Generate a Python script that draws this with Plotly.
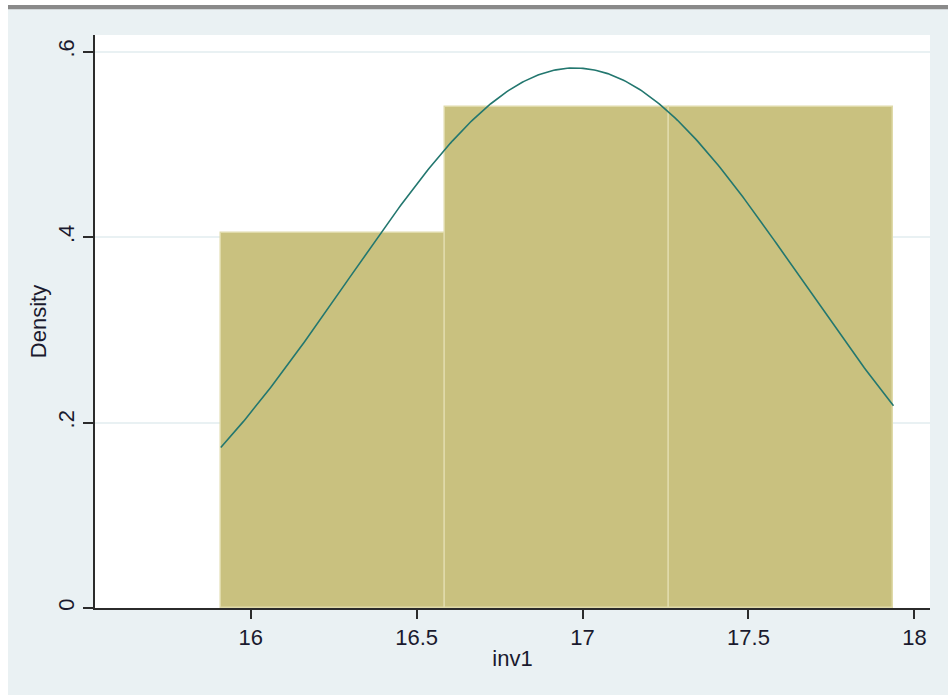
import numpy as np
import plotly.graph_objects as go

# Histogram of inv1 (density scale) with a fitted normal curve
bin_edges = [15.91, 16.586, 17.261, 17.937]
bin_density = [0.404, 0.540, 0.540]

# Normal density overlay parameters (mean and sd of inv1)
norm_mean = 16.977
norm_sd = 0.685

x_ticks = [16, 16.5, 17, 17.5, 18]
x_tick_labels = ["16", "16.5", "17", "17.5", "18"]
y_ticks = [0, 0.2, 0.4, 0.6]
y_tick_labels = ["0", ".2", ".4", ".6"]

edges = np.array(bin_edges)
centers = (edges[:-1] + edges[1:]) / 2
widths = np.diff(edges)

curve_x = np.linspace(bin_edges[0], bin_edges[-1], 300)
curve_y = np.exp(-0.5 * ((curve_x - norm_mean) / norm_sd) ** 2) / (norm_sd * np.sqrt(2 * np.pi))

W, H = 948, 695
L, R, T, B = 95, 18, 35, 87
pw, ph = W - L - R, H - T - B

def px_x(p):
    return (p - L) / pw

def px_y(p):
    return (H - B - p) / ph

fig = go.Figure()
fig.add_trace(go.Bar(
    x=centers, y=bin_density, width=widths,
    marker=dict(color="#c9c17f", line=dict(color="#dfdaa9", width=1.5)),
    showlegend=False, hoverinfo="skip",
))
fig.add_trace(go.Scatter(
    x=curve_x, y=curve_y, mode="lines",
    line=dict(color="#23776f", width=1.6),
    showlegend=False, hoverinfo="skip",
))

axis_color = "#2b2b2b"
font_color = "#1a1a2e"

# White strip at the left edge and a grey rule along the top of the window
fig.add_shape(type="rect", xref="paper", yref="paper",
              x0=px_x(-2), x1=px_x(8), y0=px_y(-2), y1=px_y(H + 2),
              fillcolor="white", line=dict(width=0), layer="below")
fig.add_shape(type="rect", xref="paper", yref="paper",
              x0=px_x(-2), x1=px_x(W + 2), y0=px_y(-2), y1=px_y(5),
              fillcolor="white", line=dict(width=0), layer="below")
fig.add_shape(type="rect", xref="paper", yref="paper",
              x0=px_x(8), x1=px_x(W + 2), y0=px_y(5), y1=px_y(9.3),
              fillcolor="#8a8a8a", line=dict(width=0), layer="below")

fig.update_layout(
    width=W, height=H,
    margin=dict(l=L, r=R, t=T, b=B, pad=0),
    paper_bgcolor="#eaf1f3",
    plot_bgcolor="white",
    font=dict(family="Liberation Sans, Arial, sans-serif", size=22, color=font_color),
    bargap=0,
    xaxis=dict(
        range=[15.531, 18.047],
        tickvals=x_ticks, ticktext=x_tick_labels,
        ticks="outside", ticklen=9, tickwidth=2, tickcolor=axis_color,
        showline=True, linecolor=axis_color, linewidth=2,
        showgrid=False, zeroline=False,
        ticklabelstandoff=0,
        title=dict(text="inv1", standoff=1, font=dict(size=22)),
    ),
    yaxis=dict(
        range=[0, 0.618],
        tickvals=y_ticks, ticktext=y_tick_labels, tickangle=-90,
        ticks="outside", ticklen=10, tickwidth=2, tickcolor=axis_color,
        showline=True, linecolor=axis_color, linewidth=2,
        showgrid=True, gridcolor="#e9f1f3", gridwidth=1.5,
        zeroline=False,
        ticklabelstandoff=0,
        title=dict(text="Density", standoff=2, font=dict(size=22)),
    ),
)

fig.write_html("out.html")
